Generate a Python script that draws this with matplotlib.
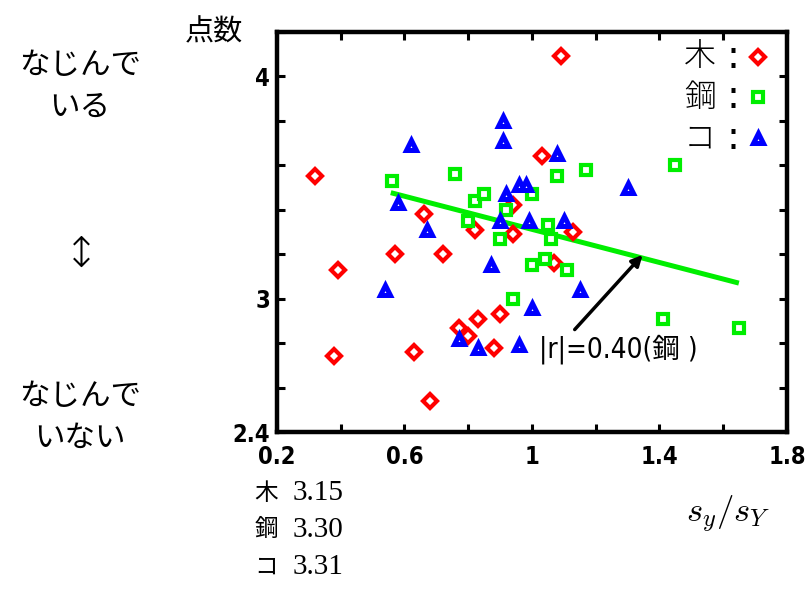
import matplotlib
matplotlib.use("Agg")
import matplotlib.pyplot as plt
import numpy as np

plt.rcParams["mathtext.fontset"] = "cm"

# 木 (red diamonds)
ki_x = [0.32, 1.09, 1.03, 0.66, 0.82, 0.94, 0.94, 1.13, 0.39, 0.57,
        0.72, 1.07, 0.38, 0.63, 0.68, 0.77, 0.80, 0.83, 0.90, 0.88]
ki_y = [3.55, 4.09, 3.64, 3.38, 3.31, 3.42, 3.29, 3.30, 3.13, 3.20,
        3.20, 3.16, 2.74, 2.76, 2.54, 2.87, 2.83, 2.91, 2.93, 2.78]

# 鋼 (green squares)
ko_x = [0.56, 0.76, 0.82, 0.85, 0.92, 0.80, 1.00, 0.90, 1.08, 1.17,
        1.45, 1.05, 1.06, 1.00, 1.04, 1.11, 0.94, 1.41, 1.65]
ko_y = [3.53, 3.56, 3.44, 3.47, 3.40, 3.35, 3.47, 3.27, 3.55, 3.58,
        3.60, 3.33, 3.27, 3.15, 3.18, 3.13, 3.00, 2.91, 2.87]

# コ (blue triangles)
co_x = [0.62, 0.91, 0.91, 0.58, 0.67, 0.92, 0.96, 0.98, 0.90, 0.99,
        1.08, 1.30, 1.10, 0.87, 0.54, 1.00, 0.77, 0.83, 0.96, 1.15]
co_y = [3.69, 3.80, 3.71, 3.43, 3.31, 3.47, 3.51, 3.51, 3.35, 3.35,
        3.65, 3.50, 3.35, 3.15, 3.04, 2.96, 2.82, 2.78, 2.79, 3.04]

# regression line for 鋼
fit_x = [0.557, 1.649]
fit_y = [3.477, 3.070]

arrow_tail = (1.134, 2.861)
arrow_head = (1.347, 3.197)

x_ticks = [0.2, 0.4, 0.6, 0.8, 1.0, 1.2, 1.4, 1.6, 1.8]
x_labels = ["0.2", "", "0.6", "", "1", "", "1.4", "", "1.8"]
y_ticks = [2.4, 2.6, 2.8, 3.0, 3.2, 3.4, 3.6, 3.8, 4.0, 4.2]
y_labels = ["2.4", "", "", "3", "", "", "", "", "4", ""]

groups = ["木", "鋼", "コ"]
means = ["3.15", "3.30", "3.31"]

jp = ["Noto Sans CJK JP", "DejaVu Sans"]
narrow = ["DejaVu Sans", "Noto Sans CJK JP"]

fig = plt.figure(figsize=(8.12, 5.89), dpi=100)
ax = fig.add_axes([277 / 812, 157 / 589, 510 / 812, 400 / 589])

ax.plot(fit_x, fit_y, color="#00ee00", lw=3.6, solid_capstyle="butt", zorder=2)

mk = dict(ls="none", mfc="white", ms=7.6, mew=3.0, zorder=3)
ax.plot(ki_x, ki_y, marker="D", mec="red", **dict(mk, ms=7.0))
ax.plot(ko_x, ko_y, marker="s", mec="#00ee00", **mk)
ax.plot(co_x, co_y, marker="^", mec="blue", **dict(mk, mew=3.6))

ax.annotate("", xy=arrow_head, xytext=arrow_tail,
            arrowprops=dict(arrowstyle="-|>", lw=2.5, color="black",
                            mutation_scale=16, shrinkA=0, shrinkB=0))
ax.text(1.272, 2.775, "|r|=0.40(鋼 )", family=narrow, stretch="condensed",
        fontsize=20, ha="center", va="center")

# legend inside the axes
styles = [("D", "red", 3.0, 7.0), ("s", "#00ee00", 3.0, 7.6),
          ("^", "blue", 3.6, 7.6)]
for i, (g, (m, c, w, s)) in enumerate(zip(groups, styles)):
    yy = 0.9375 - i * 0.101
    ax.text(0.829, yy, g, transform=ax.transAxes, family=jp, fontsize=23,
            ha="center", va="center", weight="light")
    ax.text(0.894, yy, ":", transform=ax.transAxes, fontsize=28,
            ha="center", va="center")
    ax.plot([0.943], [yy], transform=ax.transAxes, marker=m, mec=c,
            mfc="white", ms=s, mew=w, ls="none")

ax.set_xlim(0.2, 1.8)
ax.set_ylim(2.4, 4.2)
ax.set_xticks(x_ticks)
ax.set_xticklabels(x_labels)
ax.set_yticks(y_ticks)
ax.set_yticklabels(y_labels)
for lab in ax.get_xticklabels() + ax.get_yticklabels():
    lab.set_family("DejaVu Sans")
    lab.set_stretch("condensed")
    lab.set_fontsize(17)
    lab.set_weight("bold")
ax.tick_params(direction="in", length=6, width=2.2, top=True, right=True)
ax.tick_params(axis="x", pad=9)
ax.tick_params(axis="y", pad=5)
for sp in ax.spines.values():
    sp.set_linewidth(3.2)

# texts around the axes
fig.text(80 / 812, 1 - 86 / 589, "なじんで\nいる", family=jp, fontsize=22,
         ha="center", va="center", linespacing=1.45)
fig.text(80 / 812, 1 - 417 / 589, "なじんで\nいない", family=jp, fontsize=22,
         ha="center", va="center", linespacing=1.45)
fig.text(81 / 812, 1 - 254 / 589, "↕", family=["DejaVu Sans"], fontsize=30,
         ha="center", va="center", weight="light")
fig.text(214 / 812, 1 - 32 / 589, "点数", family=jp, fontsize=21,
         ha="center", va="center")
fig.text(728 / 812, 1 - 514 / 589, r"$s_y/s_Y$", fontsize=25,
         ha="center", va="center")

for i, (g, v) in enumerate(zip(groups, means)):
    yy = 1 - (493 + i * 37) / 589
    fig.text(266 / 812, yy, g, family=jp, fontsize=17, ha="center", va="center")
    fig.text(293 / 812, yy, v, family=["Liberation Serif"], fontsize=21,
             ha="left", va="center")

fig.savefig("out.png", dpi=100)
